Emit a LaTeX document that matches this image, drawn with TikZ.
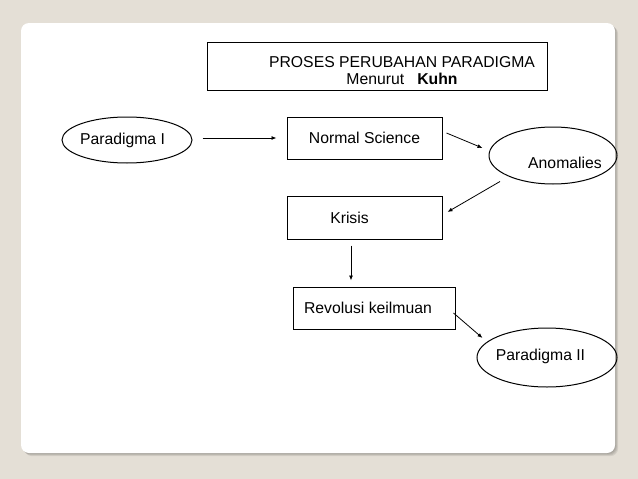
\documentclass[tikz,border=0pt]{standalone}
\usepackage{fontspec}
\setmainfont{Liberation Sans}
\usepackage{tikz}
\usetikzlibrary{shapes.geometric}
\usetikzlibrary{arrows.meta}
\definecolor{slidebg}{RGB}{228,223,214}

\begin{document}
\begin{tikzpicture}[x=1pt, y=1pt,
  box/.style={draw, line width=1pt, inner sep=0pt},
  oval/.style={draw, ellipse, line width=1pt, inner sep=0pt},
  txt/.style={font=\fontsize{15.75}{17}\selectfont},
  arr/.style={line width=0.8pt, -{Latex[length=5pt,width=4pt]}}]
\useasboundingbox (0,0) rectangle (638,-479);
\fill[slidebg] (0,0) rectangle (638,-479);
% slide card with soft shadow
\foreach \s in {1,...,4}
  \fill[black, opacity=0.07, rounded corners=8pt] (21+\s*0.8,-23-\s*0.8) rectangle (615+\s*0.8,-453-\s*0.8);
\fill[white, rounded corners=8pt] (21,-23) rectangle (615,-453);

% title
\node[box, minimum width=340pt, minimum height=48pt] (titlebox) at (377,-66) {};
\node[txt, align=center] (titletext) at (402,-70.5) {PROSES PERUBAHAN PARADIGMA\\Menurut\hspace{13pt}\textbf{Kuhn}};

% stages
\node[oval, minimum width=130pt, minimum height=46pt, label={[txt,xshift=-4.5pt]center:Paradigma I}] (para1) at (127,-140) {};
\node[box, txt, minimum width=155pt, minimum height=42pt] (normal) at (364.5,-138) {Normal Science};
\node[oval, minimum width=128pt, minimum height=57pt, label={[txt,xshift=12pt,yshift=-7.5pt]center:Anomalies}] (anom) at (553,-155.5) {};
\node[box, minimum width=155pt, minimum height=43pt, label={[txt,xshift=-15pt]center:Krisis}] (krisis) at (364.5,-217.5) {};
\node[box, minimum width=162pt, minimum height=42pt, label={[txt,xshift=-6pt]center:Revolusi keilmuan}] (revol) at (374,-308) {};
\node[oval, minimum width=140pt, minimum height=59pt, label={[txt,xshift=-6.5pt,yshift=1.5pt]center:Paradigma II}] (para2) at (547,-357.5) {};

% arrows
\draw[arr] ([shift={(10,2)}]para1.east) -- ([xshift=-10pt]normal.west);
\draw[arr] ([shift={(4,5)}]normal.east) -- ([shift={(-6,7.5)}]anom.west);
\draw[arr] ([shift={(-53,3)}]anom.south) -- ([shift={(5,5.5)}]krisis.east);
\draw[arr] ([shift={(-13.5,-6)}]krisis.south) -- ([shift={(-23,6)}]revol.north);
\draw[arr] ([shift={(-2,-5)}]revol.east) -- ([shift={(6,19.5)}]para2.west);
\end{tikzpicture}
\end{document}
